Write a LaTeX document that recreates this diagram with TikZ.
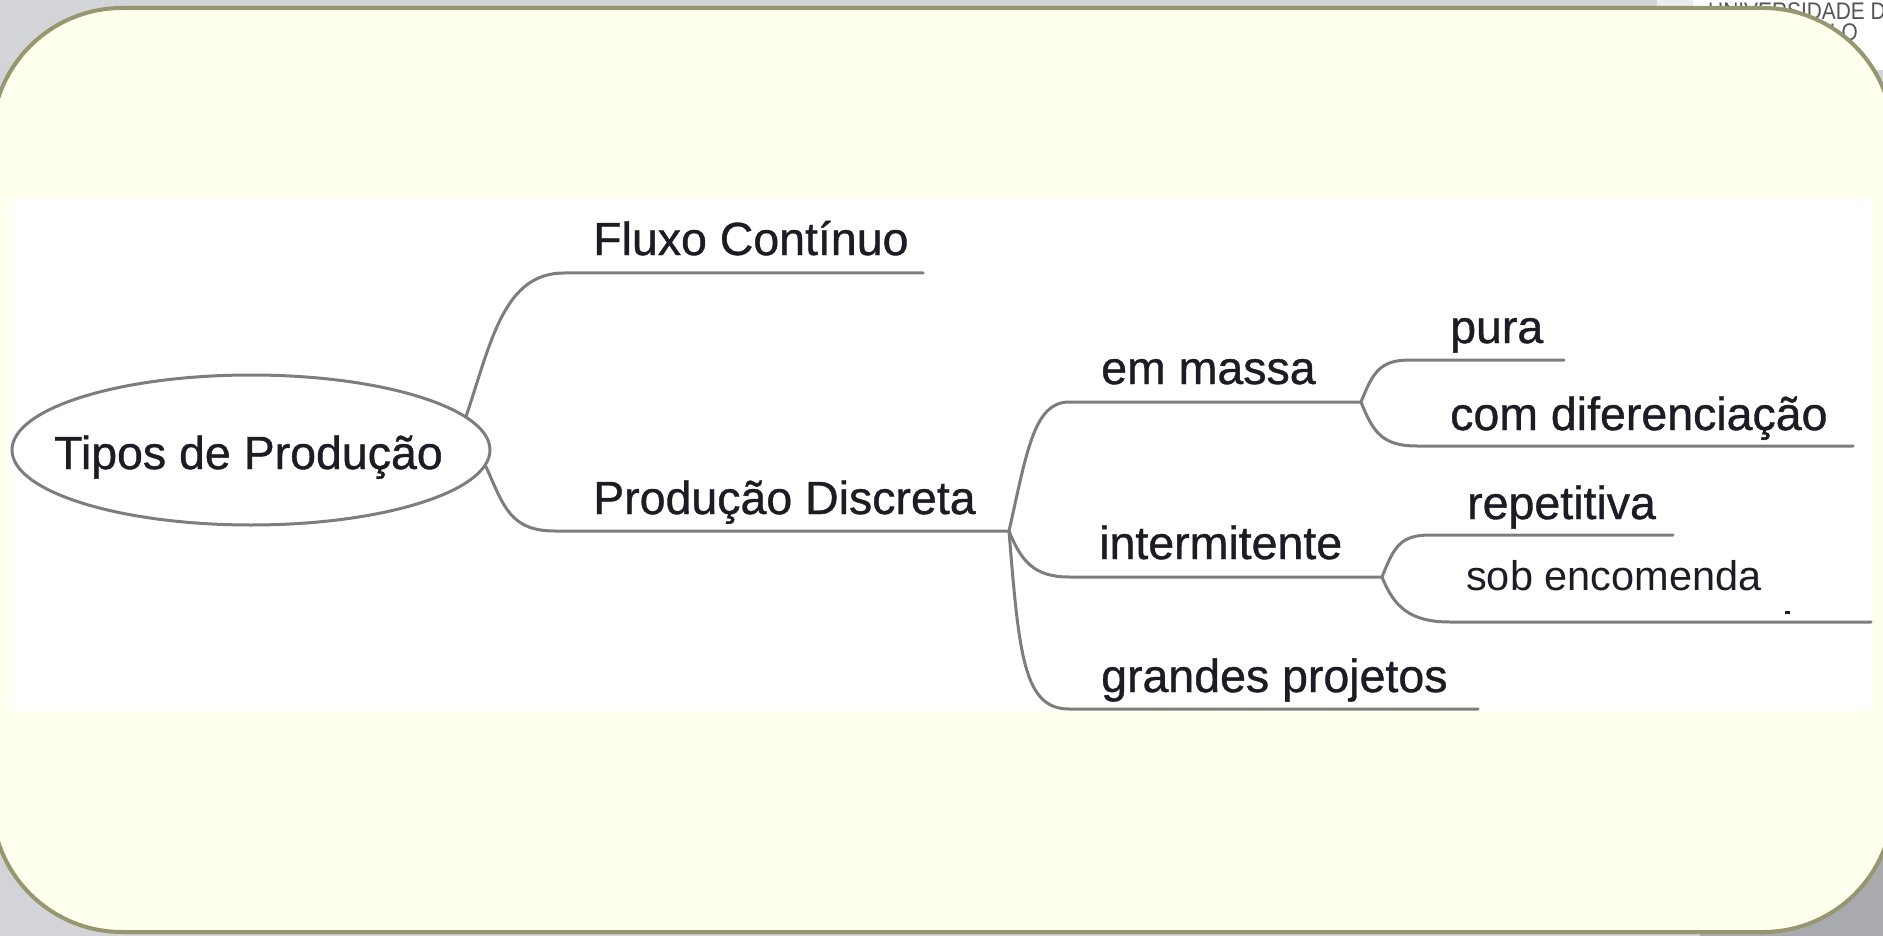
\documentclass[tikz,border=0pt]{standalone}
\usepackage{fontspec}
\newfontfamily\mapfont{Liberation Sans}[FakeBold=0.8]
\newfontfamily\thinfont{Liberation Sans}
\newfontfamily\logofont{Liberation Sans}[FakeStretch=0.87]
\usetikzlibrary{shapes.geometric}
\definecolor{slidegray}{RGB}{211,212,215}
\definecolor{cornergray}{RGB}{169,170,174}
\definecolor{panelfill}{RGB}{255,255,238}
\definecolor{panelrim}{RGB}{150,150,112}
\definecolor{branchgray}{RGB}{125,125,125}
\definecolor{inkcol}{RGB}{28,28,36}
\definecolor{logogray}{RGB}{85,85,85}

\begin{document}
\begin{tikzpicture}[x=1pt,y=-1pt,
        lbl/.style={font=\mapfont\fontsize{46.5}{52}\selectfont,text=inkcol,inner sep=0pt,anchor=base west},
        logo/.style={font=\logofont\fontsize{24}{26}\selectfont,text=logogray,inner sep=0pt},
        branch/.style={draw=branchgray,line width=3pt,line cap=round}]
    \useasboundingbox (0,0) rectangle (1883,936);
    \clip (0,0) rectangle (1883,936);

    % Background
    \fill[slidegray] (0,0) rectangle (1883,936);
    \fill[cornergray] (1700,780) rectangle (1883,936);
    \fill[slidegray!45!white] (1657,0) rectangle (1693,20);
    \fill[white] (1693,0) rectangle (1883,70);
    \node[logo,anchor=base west] (usp1) at (1708,20) {UNIVERSIDADE DE};
    \node[logo,anchor=base east] (usp2) at (1858,41) {SÃO PAULO};
    \draw[panelrim,fill=panelfill,line width=4pt,rounded corners=130pt] (-8,8) rectangle (1893,932);
    \fill[white] (10,198) rectangle (1871,711);

    \node[draw=branchgray,line width=3pt,ellipse,minimum width=478pt,minimum height=150pt,inner sep=0pt] (root) at (251,450) {};
    \node[lbl] (roottext) at (54,469) {Tipos de Produção};

    \coordinate (fluxo-a) at (564,273);  \coordinate (fluxo-b) at (923,273);
    \coordinate (disc-a)  at (555,531);  \coordinate (disc-b)  at (1009,531);
    \coordinate (massa-a) at (1069,402); \coordinate (massa-b) at (1361,402);
    \coordinate (inter-a) at (1069,577); \coordinate (inter-b) at (1382,577);
    \coordinate (proj-a)  at (1069,709); \coordinate (proj-b)  at (1478,709);
    \coordinate (pura-a)  at (1410,360); \coordinate (pura-b)  at (1564,360);
    \coordinate (dif-a)   at (1417,446); \coordinate (dif-b)   at (1853,446);
    \coordinate (rep-a)   at (1430,535); \coordinate (rep-b)   at (1673,535);
    \coordinate (enc-a)   at (1450,622); \coordinate (enc-b)   at (1871,622);

    \node[lbl] (fluxo) at (593,255)  {Fluxo Contínuo};
    \node[lbl] (disc)  at (593,514)  {Produção Discreta};
    \node[lbl] (massa) at (1101,384) {em massa};
    \node[lbl] (inter) at (1099,559) {intermitente};
    \node[lbl] (proj)  at (1101,692) {grandes projetos};
    \node[lbl] (pura)  at (1450,343) {pura};
    \node[lbl] (dif)   at (1450,430) {com diferenciação};
    \node[lbl] (rep)   at (1467,519) {repetitiva};
    \node[lbl,font=\thinfont\fontsize{41.5}{46}\selectfont] (enc) at (1466,590) {sob encomenda};

    \draw[branch] (root.9) .. controls +(25,-75) and +(-60,0) .. (fluxo-a) -- (fluxo-b);
    \draw[branch] (root.-4) .. controls +(18,40) and +(-45,0) .. (disc-a) -- (disc-b);
    \draw[branch] (disc-b) .. controls +(18,-80) and +(-35,0) .. (massa-a) -- (massa-b);
    \draw[branch] (disc-b) .. controls +(12,30) and +(-35,0) .. (inter-a) -- (inter-b);
    \draw[branch] (disc-b) .. controls +(10,125) and +(-45,0) .. (proj-a) -- (proj-b);
    \draw[branch] (massa-b) .. controls +(12,-30) and +(-30,0) .. (pura-a) -- (pura-b);
    \draw[branch] (massa-b) .. controls +(12,30) and +(-35,0) .. (dif-a) -- (dif-b);
    \draw[branch] (inter-b) .. controls +(12,-30) and +(-30,0) .. (rep-a) -- (rep-b);
    \draw[branch] (inter-b) .. controls +(12,30) and +(-40,0) .. (enc-a) -- (enc-b);
    \fill[inkcol] (1785,611) rectangle (1790,614);
\end{tikzpicture}
\end{document}
